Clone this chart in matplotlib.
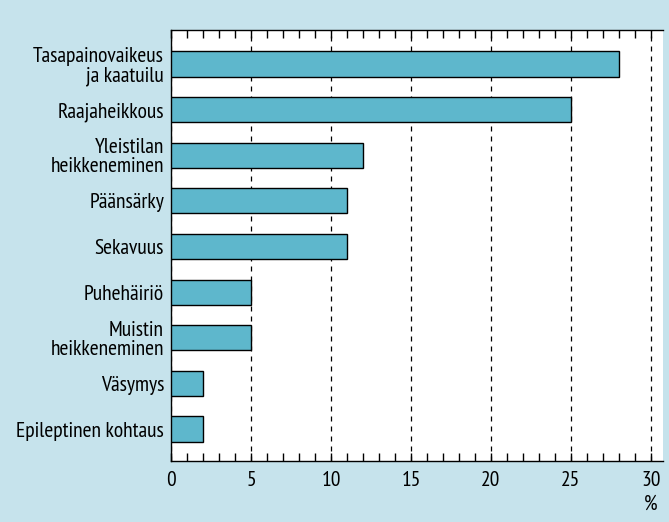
import matplotlib
matplotlib.use('Agg')
from matplotlib import pyplot as plt
from matplotlib.ticker import MultipleLocator

labels = ['Tasapainovaikeus\nja kaatuilu', 'Raajaheikkous', 'Yleistilan\nheikkeneminen',
          'Päänsärky', 'Sekavuus', 'Puhehäiriö', 'Muistin\nheikkeneminen',
          'Väsymys', 'Epileptinen kohtaus']
values = [28, 25, 12, 11, 11, 5, 5, 2, 2]

plt.rcParams['font.family'] = ['PT Sans Narrow', 'DejaVu Sans']

bg = '#c6e3ec'
barcol = '#5eb7cc'
fs = 15.5

fig = plt.figure(figsize=(6.69, 5.22), dpi=100, facecolor=bg)
ax = fig.add_axes([0.2556, 0.1169, 0.7354, 0.8257])

pos = list(range(len(labels)))
ax.barh(pos, values, height=0.55, color=barcol, edgecolor='black', linewidth=1.0, zorder=3)

ax.set_xlim(0, 30.75)
ax.set_ylim(8.7, -0.745)
ax.set_yticks(pos)
ax.set_yticklabels(labels, fontsize=fs, linespacing=1.0)

ax.xaxis.set_major_locator(MultipleLocator(5))
ax.xaxis.set_minor_locator(MultipleLocator(1))
ax.tick_params(axis='x', which='both', direction='in', top=True, bottom=True,
               length=6, width=1.0, labelsize=fs, pad=7)
ax.tick_params(axis='y', length=0, pad=5)

ax.grid(axis='x', which='major', color='black', linestyle=(0, (4, 4)), linewidth=0.9, zorder=1)

ax.spines['right'].set_visible(False)
for s in ['top', 'left', 'bottom']:
    ax.spines[s].set_linewidth(1.0)

ax.annotate('%', xy=(30, 0), xycoords=('data', 'axes fraction'), xytext=(0, -38),
            textcoords='offset points', ha='center', va='bottom', fontsize=fs)

fig.savefig('out.png', dpi=100, facecolor=bg)
